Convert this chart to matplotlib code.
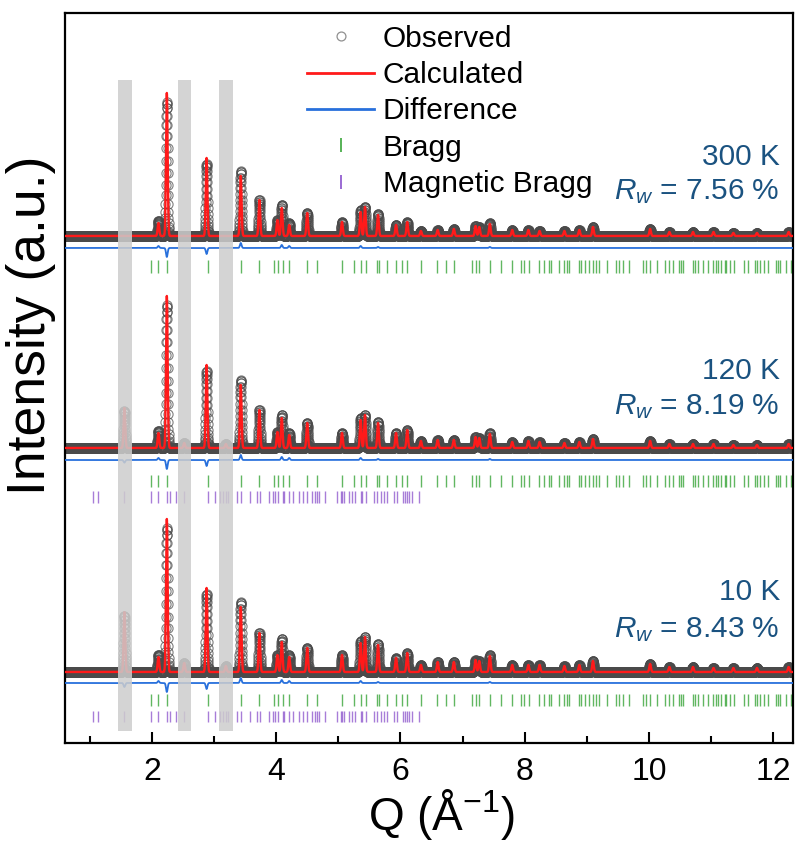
import numpy as np
import matplotlib
matplotlib.use("Agg")
import matplotlib.pyplot as plt
from matplotlib.lines import Line2D
from matplotlib.ticker import MultipleLocator

plt.rcParams["font.family"] = ["Liberation Sans", "DejaVu Sans"]
plt.rcParams["mathtext.fontset"] = "custom"
plt.rcParams["mathtext.rm"] = "Liberation Sans"
plt.rcParams["mathtext.it"] = "Liberation Sans:italic"

# ---- data (intensities in arb. units) ----
NUC_PEAK_Q = [2.105, 2.24, 2.88, 3.43, 3.73, 4.02, 4.09, 4.21, 4.50, 5.06,
              5.36, 5.43, 5.64, 5.93, 6.11, 6.33, 6.60, 6.86, 7.21, 7.27,
              7.44, 7.80, 8.06, 8.24, 8.64, 8.88, 9.10, 10.02, 10.33, 10.71,
              11.04, 11.36, 11.74, 12.25]
I_300K = [13, 143, 78, 60, 36, 16, 28, 11, 23, 14, 24, 29, 21, 11, 14, 5, 6, 7,
          10, 9, 12, 6, 6, 5, 5, 6, 9, 7, 4, 4, 4, 3, 3, 4]
I_120K = [15, 152, 83, 63, 38, 16, 30, 13, 25, 15, 28, 33, 25, 15, 18, 7, 8, 8,
          11, 10, 14, 6, 7, 6, 5, 6, 9, 7, 4, 4, 4, 3, 3, 4]
I_10K = [15, 153, 84, 65, 39, 17, 30, 15, 24, 17, 29, 35, 27, 14, 19, 7, 10, 10,
         12, 11, 16, 7, 7, 7, 6, 7, 11, 8, 5, 5, 4, 4, 4, 5]
# observed minus calculated at each nuclear peak
NUC_OBS_MINUS_CALC = [2, -9, -6, 5, 0, 0, 3, 2, 0, 0, 2, 0, 1, 0, 0, 0, 0, 0,
                      0, 0, 1, 0, 0, 0, 0, 0, 0, 0, 0, 0, 0, 0, 0, 0]

MAG_PEAK_Q = [1.557, 2.52, 3.19]
MAG_I_120K = [40, 5, 4]
MAG_I_10K = [60, 9, 6]
MAG_OBS_MINUS_CALC = [-4, 0, 0]

# reflection positions (Bragg tick marks)
BRAGG_Q = [1.987, 2.105, 2.24, 2.896, 3.433, 3.73, 3.96, 4.03, 4.105, 4.21, 4.498,
           4.659, 5.062, 5.25, 5.358, 5.439, 5.627, 5.654, 5.788, 5.933, 6.03,
           6.11, 6.326, 6.595, 6.729, 6.863, 7.159, 7.213, 7.267, 7.439, 7.616,
           7.804, 7.939, 7.993, 8.063, 8.235, 8.315, 8.396, 8.423, 8.546, 8.638,
           8.675, 8.708, 8.88, 8.907, 8.977, 9.041, 9.095, 9.148, 9.202, 9.32,
           9.471, 9.525, 9.59, 9.686, 9.912, 9.955, 10.019, 10.127, 10.267,
           10.331, 10.385, 10.493, 10.52, 10.546, 10.708, 10.75, 10.788, 10.869,
           10.95, 11.04, 11.073, 11.11, 11.164, 11.218, 11.245, 11.299, 11.364,
           11.525, 11.595, 11.702, 11.74, 11.783, 11.847, 11.917, 12.052, 12.079,
           12.105, 12.213, 12.294]
MAG_BRAGG_Q = [1.057, 1.138, 1.557, 1.987, 2.105, 2.24, 2.293, 2.39, 2.52, 2.896,
               3.02, 3.1, 3.143, 3.186, 3.224, 3.369, 3.433, 3.584, 3.69, 3.734,
               3.89, 3.944, 3.987, 4.03, 4.105, 4.132, 4.2, 4.27, 4.36, 4.43,
               4.498, 4.578, 4.632, 4.659, 4.697, 4.794, 4.982, 5.036, 5.062,
               5.089, 5.17, 5.224, 5.277, 5.358, 5.385, 5.439, 5.573, 5.627,
               5.681, 5.735, 5.788, 5.896, 5.95, 6.041, 6.073, 6.11, 6.138,
               6.191, 6.299]

TEMPS = ["300 K", "120 K", "10 K"]
RW = ["7.56", "8.19", "8.43"]
HIGHLIGHT_Q = [(1.455, 1.68), (2.42, 2.63), (3.08, 3.31)]

# ---- layout (vertical offsets of each stacked pattern) ----
BASE = [507, 295, 71]
DIFF_OFF = [495, 283, 60]
BRAGG_Y = [(470, 483), (256, 268), (37, 49)]
MAG_Y = [None, (240, 252), (21, 32)]
TEXT_Y = [(0.803, 0.755), (0.509, 0.461), (0.207, 0.155)]

RED = "#ff1a1a"
BLUE = "#2870dc"
GREEN = "#3aa53a"
PURPLE = "#8a52cc"
LABEL_BLUE = "#1a5280"
SIGMA = 0.013

q = np.arange(0.6, 12.33, 0.002)


def profile(centres, amps):
    y = np.zeros_like(q)
    for c, a in zip(centres, amps):
        y += a * np.exp(-0.5 * ((q - c) / SIGMA) ** 2)
    return y


fig = plt.figure(figsize=(8.01, 8.42), dpi=100)
ax = fig.add_axes([0.0811, 0.1176, 0.9089, 0.867])

nuc_sets = [I_300K, I_120K, I_10K]
mag_sets = [None, MAG_I_120K, MAG_I_10K]
for k in range(3):
    calc = BASE[k] + profile(NUC_PEAK_Q, nuc_sets[k])
    dif = profile(NUC_PEAK_Q, NUC_OBS_MINUS_CALC)
    if mag_sets[k] is not None:
        calc += profile(MAG_PEAK_Q, mag_sets[k])
        dif += profile(MAG_PEAK_Q, [d * mag_sets[k][i] / 60 for i, d in enumerate(MAG_OBS_MINUS_CALC)])
    obs = calc + dif
    ax.plot(q, obs, ls="none", marker="o", ms=6.6, mfc="none", mec="#4a4a4a",
            mew=0.8, alpha=0.7, zorder=2)
    ax.plot(q, calc, color=RED, lw=1.7, zorder=3)
    ax.plot(q, DIFF_OFF[k] + dif, color=BLUE, lw=1.3, zorder=3)
    ax.vlines(BRAGG_Q, *BRAGG_Y[k], color=GREEN, lw=1.0, alpha=0.8, zorder=2)
    if MAG_Y[k] is not None:
        ax.vlines(MAG_BRAGG_Q, *MAG_Y[k], color=PURPLE, lw=1.0, alpha=0.75, zorder=2)
    ax.text(0.982, TEXT_Y[k][0], TEMPS[k], transform=ax.transAxes, ha="right",
            va="center", fontsize=21.5, color=LABEL_BLUE)
    ax.text(0.982, TEXT_Y[k][1], r"$R_w$ = " + RW[k] + " %", transform=ax.transAxes,
            ha="right", va="center", fontsize=21.5, color=LABEL_BLUE)

for lo, hi in HIGHLIGHT_Q:
    ax.axvspan(lo, hi, ymin=0.0164, ymax=0.908, color="#cdcdcd", alpha=0.85,
               lw=0, zorder=4)

ax.set_xlim(0.6, 12.32)
ax.set_ylim(0, 730)
ax.set_yticks([])
ax.xaxis.set_major_locator(MultipleLocator(2))
ax.xaxis.set_minor_locator(MultipleLocator(1))
ax.tick_params(axis="x", which="major", direction="in", length=8, width=1.5,
               labelsize=23, pad=10)
ax.tick_params(axis="x", which="minor", direction="in", length=5, width=1.5)
for s in ax.spines.values():
    s.set_linewidth(1.6)

fig.text(441 / 801, 1 - 815 / 842, "Q (Å$^{-1}$)", ha="center", va="center",
         fontsize=33)
fig.text(31 / 801, 1 - 325 / 842, "Intensity (a.u.)", rotation=90, ha="center",
         va="center", fontsize=38.5)

handles = [
    Line2D([], [], ls="none", marker="o", ms=6.4, mfc="none", mec="#909090", mew=0.9,
           label="Observed"),
    Line2D([], [], color=RED, lw=2, label="Calculated"),
    Line2D([], [], color=BLUE, lw=2, label="Difference"),
    Line2D([], [], ls="none", marker="|", ms=10, mew=1.2, color=GREEN, label="Bragg"),
    Line2D([], [], ls="none", marker="|", ms=10, mew=1.2, color=PURPLE,
           label="Magnetic Bragg"),
]
ax.legend(handles=handles, loc="upper left", bbox_to_anchor=(0.332, 0.984),
          frameon=False, fontsize=21.5, handlelength=2.27, handletextpad=0.27,
          labelspacing=0.28, borderpad=0, borderaxespad=0)

fig.savefig("out.png", dpi=100)
